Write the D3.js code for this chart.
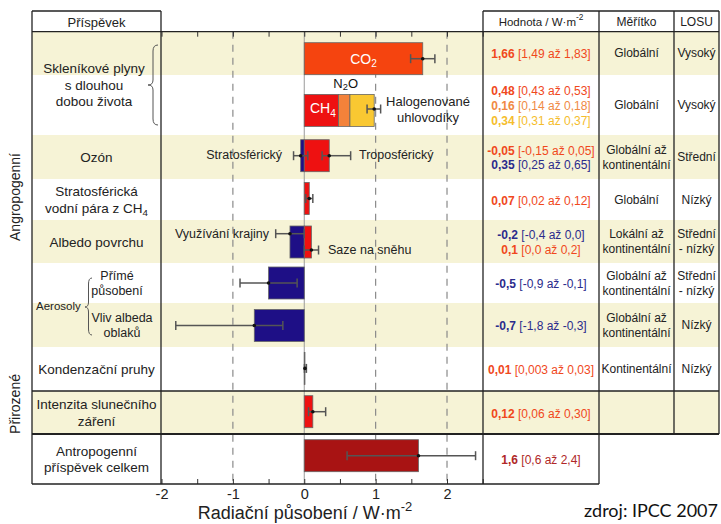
<!DOCTYPE html>
<html>
<head>
<meta charset="utf-8">
<script src="https://cdn.jsdelivr.net/npm/d3@7"></script>
<style>
  body { margin: 0; background: #fff; }
  svg { display: block; font-family: "Liberation Sans", Arial, sans-serif; }
</style>
</head>
<body>
<div id="chart"></div>
<script>
// --- data ---
var categories = ["co2", "llghg", "ozone", "stratH2O", "albedo", "aerDirect", "aerCloud", "contrails", "solar", "total"];

var rowLabels = [
  [], [], ["Ozón"], ["Stratosférická", "vodní pára z CH_{4}"], ["Albedo povrchu"],
  ["Přímé", "působení"], ["Vliv albeda", "oblaků"], ["Kondenzační pruhy"],
  ["Intenzita slunečního", "záření"], ["Antropogenní", "příspěvek celkem"]
];

// bar segments
var barCat  = ["co2", "llghg", "llghg", "llghg", "ozone", "ozone", "stratH2O", "albedo", "albedo", "aerDirect", "aerCloud", "contrails", "solar", "total"];
var barFrom = [0, 0, 0.48, 0.64, -0.05, 0, 0, -0.2, 0, -0.5, -0.7, 0, 0, 0];
var barTo   = [1.66, 0.48, 0.64, 0.98, 0, 0.35, 0.07, 0, 0.1, 0, 0, 0.01, 0.12, 1.6];
var barKind = ["co2", "ch4", "n2o", "halo", "neg", "pos", "pos", "neg", "pos", "neg", "neg", "pos", "pos", "total"];

// uncertainty ranges
var errCat = ["co2", "llghg", "ozone", "ozone", "stratH2O", "albedo", "albedo", "aerDirect", "aerCloud", "contrails", "solar", "total"];
var errMid = [1.66, 0.98, -0.05, 0.35, 0.07, -0.2, 0.1, -0.5, -0.7, 0.01, 0.12, 1.6];
var errLo  = [1.49, 0.88, -0.15, 0.25, 0.02, -0.4, 0.0, -0.9, -1.8, 0.003, 0.06, 0.6];
var errHi  = [1.83, 1.07, 0.05, 0.65, 0.12, 0.0, 0.2, -0.1, -0.3, 0.03, 0.30, 2.4];

// value column (Hodnota)
var valCat   = ["co2", "llghg", "llghg", "llghg", "ozone", "ozone", "stratH2O", "albedo", "albedo", "aerDirect", "aerCloud", "contrails", "solar", "total"];
var valBold  = ["1,66", "0,48", "0,16", "0,34", "-0,05", "0,35", "0,07", "-0,2", "0,1", "-0,5", "-0,7", "0,01", "0,12", "1,6"];
var valRange = ["[1,49 až 1,83]", "[0,43 až 0,53]", "[0,14 až 0,18]", "[0,31 až 0,37]", "[-0,15 až 0,05]", "[0,25 až 0,65]",
                "[0,02 až 0,12]", "[-0,4 až 0,0]", "[0,0 až 0,2]", "[-0,9 až -0,1]", "[-1,8 až -0,3]", "[0,003 až 0,03]",
                "[0,06 až 0,30]", "[0,6 až 2,4]"];
var valKind  = ["red", "red", "n2o", "halo", "red", "blue", "red", "blue", "red", "blue", "blue", "red", "red", "total"];

var scaleText = [["Globální"], ["Globální"], ["Globální až", "kontinentální"], ["Globální"], ["Lokální až", "kontinentální"],
                 ["Globální až", "kontinentální"], ["Globální až", "kontinentální"], ["Kontinentální"], [], []];
var losuText  = [["Vysoký"], ["Vysoký"], ["Střední"], ["Nízký"], ["Střední", "- nízký"], ["Střední", "- nízký"], ["Nízký"], ["Nízký"], [], []];

var xTicks = [-2, -1, 0, 1, 2];

// --- layout ---
var width = 721, height = 524;
var rowEdges = [31.7, 75, 135, 179, 220, 263, 303, 347, 391, 434, 484];
var barMids  = [58.7, 110.4, 155.7, 198.5, 242, 283, 325.5, 368.4, 411.7, 455.7];
var barH = 32;
var colL = 32, colPlot = 161, colVal = 483, colScale = 599, colLosu = 674, colEnd = 719;
var headTop = 11;

var fill = { co2: "#f5440f", ch4: "#ee1111", n2o: "#f4823a", halo: "#f9c832", pos: "#ee1111", neg: "#1e0f86", total: "#a81313" };
var txtCol = { red: "#f0481c", n2o: "#f08a44", halo: "#f5bd2c", blue: "#2b2b8c", total: "#b02828" };
var beige = "#f6f3d6";

var svg = d3.select("#chart").append("svg").attr("width", width).attr("height", height);

var x = d3.scaleLinear().domain([-2, 2.5]).range([161.5, 482.7]);
var yMid = d3.scaleOrdinal().domain(categories).range(barMids);
var rowIdx = d3.scaleOrdinal().domain(categories).range(d3.range(categories.length));

// helper for sub / superscripts
function rich(t, s, fs) {
  var parts = s.split(/([_^]\{[^}]*\})/).filter(function (p) { return p; });
  var shift = 0;
  parts.forEach(function (p) {
    var m = p.match(/^([_^])\{(.*)\}$/);
    if (m) {
      var d = m[1] === "_" ? fs * 0.3 : -fs * 0.4;
      t.append("tspan").attr("dy", d - shift).attr("font-size", fs * 0.72).text(m[2]);
      shift = d;
    } else {
      t.append("tspan").attr("dy", -shift).text(p);
      shift = 0;
    }
  });
  return t;
}
function label(g, s, px, py, fs, anchor, col, weight) {
  var t = g.append("text").attr("x", px).attr("y", py).attr("font-size", fs)
    .attr("text-anchor", anchor || "middle").attr("dominant-baseline", "central")
    .attr("fill", col || "#222");
  if (weight) t.attr("font-weight", weight);
  return rich(t, s, fs);
}

// beige stripes
categories.forEach(function (c, i) {
  if (i % 2 === 0 && i < 9) {
    svg.append("rect").attr("x", colL).attr("y", rowEdges[i]).attr("width", colEnd - colL)
      .attr("height", rowEdges[i + 1] - rowEdges[i]).attr("fill", beige);
  }
});

// grid lines
svg.append("g").selectAll("line").data([-1, 1, 2]).enter().append("line")
  .attr("x1", function (d) { return x(d); }).attr("x2", function (d) { return x(d); })
  .attr("y1", rowEdges[0]).attr("y2", rowEdges[10])
  .attr("stroke", "#8a8a8a").attr("stroke-width", 1.2).attr("stroke-dasharray", "7,6");
svg.append("line").attr("x1", x(0)).attr("x2", x(0)).attr("y1", rowEdges[0]).attr("y2", rowEdges[10])
  .attr("stroke", "#9a9a9a").attr("stroke-width", 1);

// minor ticks top and bottom
var minor = d3.range(-2, 2.51, 0.5);
svg.append("g").attr("transform", "translate(0," + rowEdges[0] + ")")
  .call(d3.axisBottom(x).tickValues(minor).tickSize(5).tickFormat(""))
  .call(function (g) { g.select(".domain").remove(); g.selectAll("line").attr("stroke", "#333"); });
svg.append("g").attr("transform", "translate(0," + rowEdges[10] + ")")
  .call(d3.axisTop(x).tickValues(minor).tickSize(5).tickFormat(""))
  .call(function (g) { g.select(".domain").remove(); g.selectAll("line").attr("stroke", "#333"); });

// tick labels
svg.append("g").attr("transform", "translate(0," + rowEdges[10] + ")")
  .call(d3.axisBottom(x).tickValues(xTicks).tickSize(0).tickPadding(5).tickFormat(function (d) { return String(d); }))
  .call(function (g) {
    g.select(".domain").remove();
    g.selectAll("text").attr("font-size", 14.5).attr("fill", "#222")
      .attr("font-family", "Liberation Sans, Arial, sans-serif");
  });
label(svg, "Radiační působení / W·m^{-2}", 305, 513, 18, "middle", "#222");

// bars
svg.append("g").selectAll("rect").data(barCat).enter().append("rect")
  .attr("x", function (d, i) { return x(Math.min(barFrom[i], barTo[i])); })
  .attr("width", function (d, i) { return Math.abs(x(barTo[i]) - x(barFrom[i])); })
  .attr("y", function (d) { return yMid(d) - barH / 2; })
  .attr("height", barH)
  .attr("fill", function (d, i) { return fill[barKind[i]]; })
  .attr("stroke", "#666").attr("stroke-width", 0.8);

// error bars
var errOff = [0, 0, 0, 0, 0, -8.3, 8, 0, 0, 0, 0, 0];
var eg = svg.append("g").selectAll("g").data(errCat).enter().append("g")
  .attr("transform", function (d, i) { return "translate(0," + (yMid(d) + errOff[i] - (d === "llghg" ? 1.4 : 0)) + ")"; });
eg.append("line").attr("x1", function (d, i) { return x(errLo[i]); }).attr("x2", function (d, i) { return x(errHi[i]); })
  .attr("stroke", "#555").attr("stroke-width", 1.5);
eg.append("line").attr("x1", function (d, i) { return x(errLo[i]); }).attr("x2", function (d, i) { return x(errLo[i]); })
  .attr("y1", -4.5).attr("y2", 4.5).attr("stroke", "#555").attr("stroke-width", 1.5);
eg.append("line").attr("x1", function (d, i) { return x(errHi[i]); }).attr("x2", function (d, i) { return x(errHi[i]); })
  .attr("y1", -4.5).attr("y2", 4.5).attr("stroke", "#555").attr("stroke-width", 1.5);
eg.append("circle").attr("cx", function (d, i) { return x(errMid[i]); }).attr("r", 1.8).attr("fill", "#111");

// in-plot labels
label(svg, "CO_{2}", x(0.83), yMid("co2"), 14, "middle", "#fff");
label(svg, "CH_{4}", x(0.26), yMid("llghg") - 2, 14, "middle", "#fff");
label(svg, "N_{2}O", x(0.58), 83, 13, "middle", "#111");
label(svg, "Halogenované", 428, 101, 13, "middle", "#222");
label(svg, "uhlovodíky", 428, 117, 13, "middle", "#222");
label(svg, "Stratosférický", 282, 155, 12.5, "end", "#222");
label(svg, "Troposférický", 359, 155, 12.5, "start", "#222");
label(svg, "Využívání krajiny", 269, 234, 12.5, "end", "#222");
label(svg, "Saze na sněhu", 328, 250, 12.5, "start", "#222");

// left column labels
["Skleníkové plyny", "s dlouhou", "dobou života"].forEach(function (s, j) {
  label(svg, s, 94, 68 + j * 16.5, 13.5);
});
categories.forEach(function (c, i) {
  var lines = rowLabels[i];
  if (!lines.length) return;
  var cx = (i === 5) ? 117 : (i === 6) ? 122 : 96.5;
  var fs = (i === 5 || i === 6) ? 12.5 : 13.5;
  var sp = (i === 5 || i === 6) ? 15 : 16.5;
  var cy = (rowEdges[i] + rowEdges[i + 1]) / 2;
  lines.forEach(function (s, j) {
    label(svg, s, cx, cy + (j - (lines.length - 1) / 2) * sp, fs);
  });
});
label(svg, "Aerosoly", 36, 306, 11.5, "start");

// braces
function brace(xr, xt, y0, y1, ym) {
  var w = xr - xt;
  return "M" + xr + "," + y0 + " Q" + (xr - w / 2) + "," + y0 + " " + (xr - w / 2) + "," + (y0 + 6) +
    " L" + (xr - w / 2) + "," + (ym - 5) + " Q" + (xr - w / 2) + "," + ym + " " + xt + "," + ym +
    " Q" + (xr - w / 2) + "," + ym + " " + (xr - w / 2) + "," + (ym + 5) +
    " L" + (xr - w / 2) + "," + (y1 - 6) + " Q" + (xr - w / 2) + "," + y1 + " " + xr + "," + y1;
}
svg.append("path").attr("d", brace(158, 148, 45, 125, 85)).attr("fill", "none").attr("stroke", "#555").attr("stroke-width", 1);
svg.append("path").attr("d", brace(92, 85, 278, 335, 307)).attr("fill", "none").attr("stroke", "#555").attr("stroke-width", 1);

// rotated group labels
svg.append("text").attr("transform", "translate(15,197) rotate(-90)").attr("text-anchor", "middle")
  .attr("dominant-baseline", "central").attr("font-size", 14).attr("fill", "#222").text("Angropogenní");
svg.append("text").attr("transform", "translate(15,404) rotate(-90)").attr("text-anchor", "middle")
  .attr("dominant-baseline", "central").attr("font-size", 14).attr("fill", "#222").text("Přirozené");

// value column
var valX = (colVal + colScale) / 2;
var rowVals = d3.group(d3.range(valCat.length), function (i) { return valCat[i]; });
rowVals.forEach(function (idx, c) {
  var r = rowIdx(c);
  var cy = (rowEdges[r] + rowEdges[r + 1]) / 2 + 1;
  idx.forEach(function (i, j) {
    var t = svg.append("text").attr("x", valX).attr("y", cy + (j - (idx.length - 1) / 2) * 14.7)
      .attr("text-anchor", "middle").attr("dominant-baseline", "central").attr("font-size", 12)
      .attr("fill", txtCol[valKind[i]]);
    t.append("tspan").attr("font-weight", "bold").text(valBold[i]);
    t.append("tspan").text(" " + valRange[i]);
  });
});

// scale and LOSU columns
categories.forEach(function (c, i) {
  var cy = (rowEdges[i] + rowEdges[i + 1]) / 2;
  scaleText[i].forEach(function (s, j) {
    label(svg, s, (colScale + colLosu) / 2, cy + (j - (scaleText[i].length - 1) / 2) * 15, 12, "middle", "#222");
  });
  losuText[i].forEach(function (s, j) {
    label(svg, s, (colLosu + colEnd) / 2, cy + (j - (losuText[i].length - 1) / 2) * 15, 12, "middle", "#222");
  });
});

// headers
label(svg, "Příspěvek", (colL + colPlot) / 2, 21.5, 13);
label(svg, "Hodnota / W·m^{-2}", (colVal + colScale) / 2, 22, 11.5);
label(svg, "Měřítko", (colScale + colLosu) / 2, 22, 12);
label(svg, "LOSU", (colLosu + colEnd) / 2, 22, 12);

// table borders
var bc = "#222";
function ln(x1, y1, x2, y2, w) {
  svg.append("line").attr("x1", x1).attr("y1", y1).attr("x2", x2).attr("y2", y2)
    .attr("stroke", bc).attr("stroke-width", w || 1.3);
}
ln(colL, headTop, colPlot, headTop);
ln(colVal, headTop, colEnd, headTop);
ln(colL, rowEdges[0], colEnd, rowEdges[0]);
ln(colL, rowEdges[8], colEnd, rowEdges[8], 1.5);
ln(colL, rowEdges[9], colEnd, rowEdges[9], 2.2);
ln(colL, rowEdges[10], colScale, rowEdges[10], 1.5);
ln(colL, headTop, colL, rowEdges[10]);
ln(colPlot, headTop, colPlot, rowEdges[10]);
ln(colVal, headTop, colVal, rowEdges[10]);
ln(colScale, headTop, colScale, rowEdges[10]);
ln(colLosu, headTop, colLosu, rowEdges[9]);
ln(colEnd, headTop, colEnd, rowEdges[9]);

// source (kept fully inside the page)
svg.append("text").attr("x", 718).attr("y", 510).attr("dominant-baseline", "central").attr("text-anchor", "end")
  .attr("font-family", "Lato, 'Open Sans', sans-serif").attr("font-size", 18).attr("fill", "#111")
  .text("zdroj: IPCC 2007");
</script>
</body>
</html>
